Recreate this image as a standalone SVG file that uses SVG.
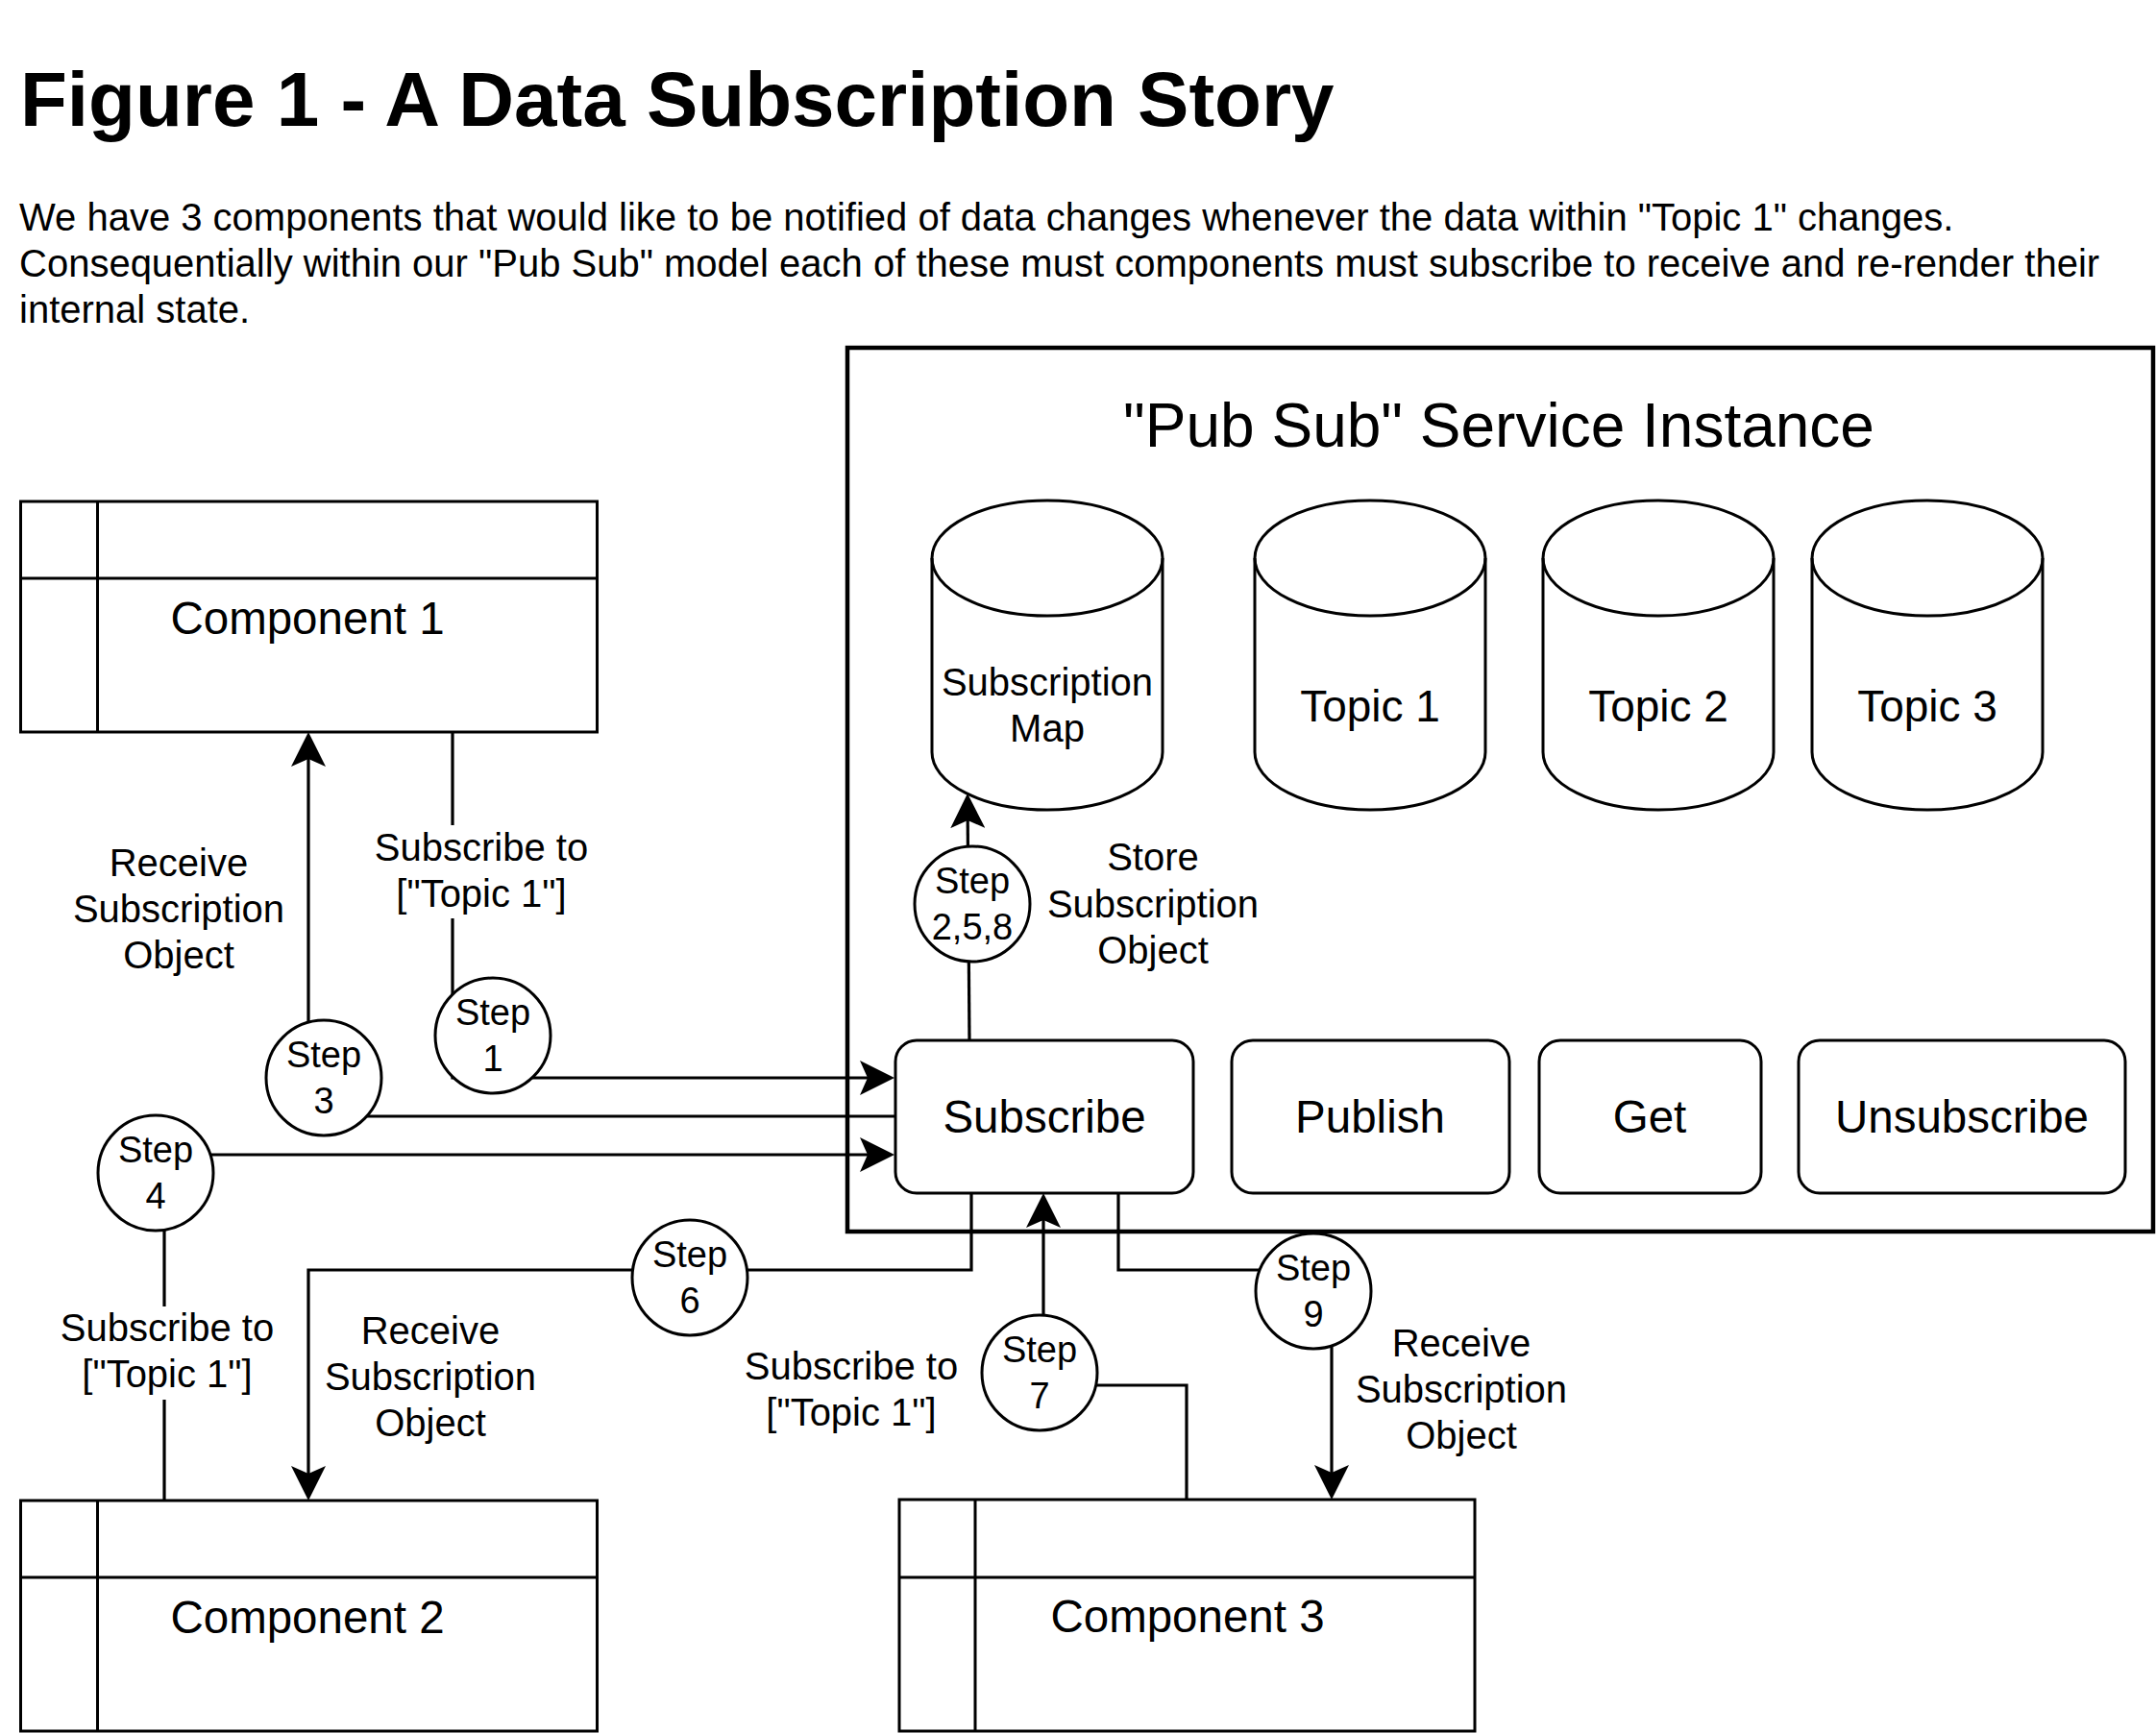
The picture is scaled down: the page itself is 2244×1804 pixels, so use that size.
<svg xmlns="http://www.w3.org/2000/svg" width="2244" height="1804" viewBox="0 0 2244 1804">
<defs>
<style>
text{font-family:"Liberation Sans",Arial,Helvetica,sans-serif;fill:#000}
.title{font-size:80px;font-weight:bold}
.desc{font-size:40px}
.lbl{font-size:40px;text-anchor:middle}
.step{font-size:38px;text-anchor:middle}
.big{font-size:47.5px;text-anchor:middle}
.topic{font-size:46px;text-anchor:middle}
.hdr{font-size:64px;text-anchor:middle}
.shape{fill:#fff;stroke:#000;stroke-width:3}
.edge{fill:none;stroke:#000;stroke-width:3.2}
.lblbg{fill:#fff;stroke:none}
</style>
<marker id="arr" viewBox="0 0 36 36" refX="8" refY="18" markerWidth="36" markerHeight="36" markerUnits="userSpaceOnUse" orient="auto">
<path d="M36,18 L0,0 L8,18 L0,36 Z" fill="#000"/>
</marker>
</defs>
<rect x="0" y="0" width="2244" height="1804" fill="#fff"/>

<g id="heading">
<text class="title" x="21" y="131">Figure 1 - A Data Subscription Story</text>
<text class="desc" x="20" y="240">We have 3 components that would like to be notified of data changes whenever the data within "Topic 1" changes.</text>
<text class="desc" x="20" y="288">Consequentially within our "Pub Sub" model each of these must components must subscribe to receive and re-render their</text>
<text class="desc" x="20" y="336">internal state.</text>
</g>

<g id="pubsub-service">
<rect x="882" y="362" width="1359" height="920" fill="#fff" stroke="#000" stroke-width="4.5"/>
<text class="hdr" x="1560" y="465">"Pub Sub" Service Instance</text>
</g>

<g id="subscription-map">
<path class="shape" d="M970,581 A120,60 0 0 1 1210,581 L1210,783 A120,60 0 0 1 970,783 Z"/>
<path class="shape" style="fill:none" d="M970,581 A120,60 0 0 0 1210,581"/>
<text class="lbl" x="1090" y="724">Subscription</text>
<text class="lbl" x="1090" y="772">Map</text>
</g>
<g id="topic1">
<path class="shape" d="M1306,581 A120,60 0 0 1 1546,581 L1546,783 A120,60 0 0 1 1306,783 Z"/>
<path class="shape" style="fill:none" d="M1306,581 A120,60 0 0 0 1546,581"/>
<text class="topic" x="1426" y="751">Topic 1</text>
</g>
<g id="topic2">
<path class="shape" d="M1606,581 A120,60 0 0 1 1846,581 L1846,783 A120,60 0 0 1 1606,783 Z"/>
<path class="shape" style="fill:none" d="M1606,581 A120,60 0 0 0 1846,581"/>
<text class="topic" x="1726" y="751">Topic 2</text>
</g>
<g id="topic3">
<path class="shape" d="M1886,581 A120,60 0 0 1 2126,581 L2126,783 A120,60 0 0 1 1886,783 Z"/>
<path class="shape" style="fill:none" d="M1886,581 A120,60 0 0 0 2126,581"/>
<text class="topic" x="2006" y="751">Topic 3</text>
</g>

<g id="subscribe">
<rect class="shape" x="932" y="1083" width="310" height="159" rx="22"/>
<text class="big" x="1087" y="1179">Subscribe</text>
</g>
<g id="publish">
<rect class="shape" x="1282" y="1083" width="289" height="159" rx="22"/>
<text class="big" x="1426" y="1179">Publish</text>
</g>
<g id="get">
<rect class="shape" x="1602" y="1083" width="231" height="159" rx="22"/>
<text class="big" x="1717" y="1179">Get</text>
</g>
<g id="unsubscribe">
<rect class="shape" x="1872" y="1083" width="340" height="159" rx="22"/>
<text class="big" x="2042" y="1179">Unsubscribe</text>
</g>

<g id="component1">
<rect class="shape" x="21.5" y="522" width="600" height="240"/>
<path class="shape" style="fill:none" d="M21.5,602 H621.5 M101.5,522 V762"/>
<text class="big" x="320" y="660">Component 1</text>
</g>
<g id="component2">
<rect class="shape" x="21.5" y="1562" width="600" height="240"/>
<path class="shape" style="fill:none" d="M21.5,1642 H621.5 M101.5,1562 V1802"/>
<text class="big" x="320" y="1700">Component 2</text>
</g>
<g id="component3">
<rect class="shape" x="936" y="1561" width="599" height="241"/>
<path class="shape" style="fill:none" d="M936,1642 H1535 M1015,1561 V1802"/>
<text class="big" x="1236" y="1699">Component 3</text>
</g>

<g id="connectors">
<path class="edge" d="M471,762 V1122 H903" marker-end="url(#arr)"/>
<path class="edge" d="M931,1162 H321 V790" marker-end="url(#arr)"/>
<path class="edge" d="M171,1562 V1202 H903" marker-end="url(#arr)"/>
<path class="edge" d="M1009,1083 L1007.2,854" marker-end="url(#arr)"/>
<path class="edge" d="M1011,1242 V1322 H321 V1534" marker-end="url(#arr)"/>
<path class="edge" d="M1235,1561 V1442 H1086 V1270" marker-end="url(#arr)"/>
<path class="edge" d="M1164,1242 V1322 H1386 V1533" marker-end="url(#arr)"/>
</g>

<g id="edge-labels">
<text class="lbl" x="186" y="912">Receive</text>
<text class="lbl" x="186" y="960">Subscription</text>
<text class="lbl" x="186" y="1008">Object</text>

<rect class="lblbg" x="388" y="859" width="226" height="97"/>
<text class="lbl" x="501" y="896">Subscribe to</text>
<text class="lbl" x="501" y="944">["Topic 1"]</text>

<text class="lbl" x="1200" y="906">Store</text>
<text class="lbl" x="1200" y="955">Subscription</text>
<text class="lbl" x="1200" y="1003">Object</text>

<rect class="lblbg" x="61" y="1360" width="226" height="97"/>
<text class="lbl" x="174" y="1396">Subscribe to</text>
<text class="lbl" x="174" y="1444">["Topic 1"]</text>

<text class="lbl" x="448" y="1399">Receive</text>
<text class="lbl" x="448" y="1447">Subscription</text>
<text class="lbl" x="448" y="1495">Object</text>

<text class="lbl" x="886" y="1436">Subscribe to</text>
<text class="lbl" x="886" y="1484">["Topic 1"]</text>

<text class="lbl" x="1521" y="1412">Receive</text>
<text class="lbl" x="1521" y="1460">Subscription</text>
<text class="lbl" x="1521" y="1508">Object</text>
</g>

<g id="step1">
<circle class="shape" cx="513" cy="1078" r="60"/>
<text class="step" x="513" y="1067">Step</text>
<text class="step" x="513" y="1115">1</text>
</g>
<g id="step3">
<circle class="shape" cx="337" cy="1122" r="60"/>
<text class="step" x="337" y="1111">Step</text>
<text class="step" x="337" y="1159">3</text>
</g>
<g id="step4">
<circle class="shape" cx="162" cy="1221" r="60"/>
<text class="step" x="162" y="1210">Step</text>
<text class="step" x="162" y="1258">4</text>
</g>
<g id="step258">
<circle class="shape" cx="1012" cy="941" r="60"/>
<text class="step" x="1012" y="930">Step</text>
<text class="step" x="1012" y="978">2,5,8</text>
</g>
<g id="step6">
<circle class="shape" cx="718" cy="1330" r="60"/>
<text class="step" x="718" y="1319">Step</text>
<text class="step" x="718" y="1367">6</text>
</g>
<g id="step7">
<circle class="shape" cx="1082" cy="1429" r="60"/>
<text class="step" x="1082" y="1418">Step</text>
<text class="step" x="1082" y="1466">7</text>
</g>
<g id="step9">
<circle class="shape" cx="1367" cy="1344" r="60"/>
<text class="step" x="1367" y="1333">Step</text>
<text class="step" x="1367" y="1381">9</text>
</g>
</svg>
